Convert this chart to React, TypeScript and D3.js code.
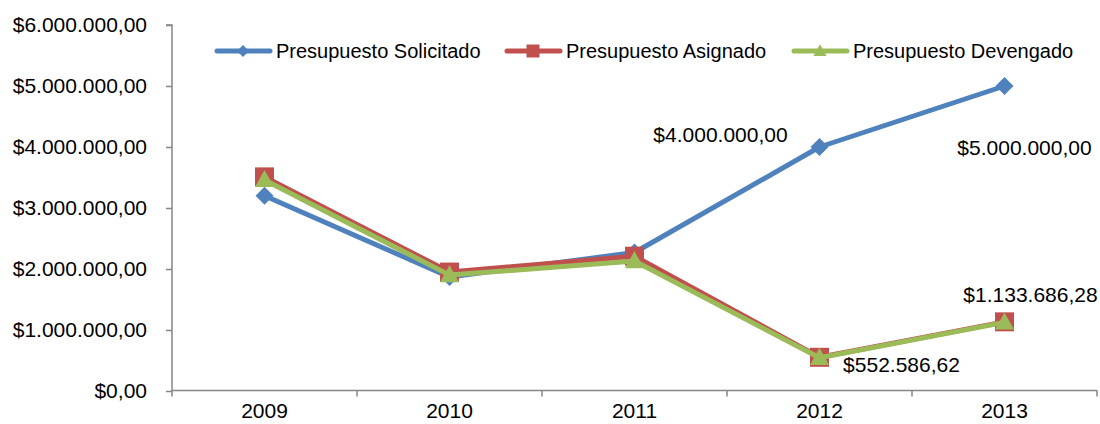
import { useEffect, useRef } from "react";
import * as d3 from "d3";

const years = ["2009", "2010", "2011", "2012", "2013"];
const solicitado = [3200000, 1870000, 2270000, 4000000, 5000000];
const asignado = [3510000, 1950000, 2210000, 552586.62, 1133686.28];
const devengado = [3460000, 1900000, 2130000, 545000, 1125000];
const yTicks = [0, 1000000, 2000000, 3000000, 4000000, 5000000, 6000000];

const seriesNames = ["Presupuesto Solicitado", "Presupuesto Asignado", "Presupuesto Devengado"];
const seriesColors = ["#4F81BD", "#C0504D", "#9BBB59"];
const seriesMarkers = ["diamond", "square", "triangle"];

// es-AR style: $1.133.686,28
const money = (v: number) => {
  const [int, dec] = v.toFixed(2).split(".");
  return "$" + int.replace(/\B(?=(\d{3})+(?!\d))/g, ".") + "," + dec;
};

const W = 1100;
const H = 424;
const FONT = "'Liberation Sans', Arial, sans-serif";
const FS = 21;

// marker shapes, r = half width
const marker = (kind: string, r: number) => {
  if (kind === "diamond") return `M0,${-r}L${r},0L0,${r}L${-r},0Z`;
  if (kind === "square") return `M${-r},${-r}H${r}V${r}H${-r}Z`;
  return `M0,${-r * 1.05}L${r},${r * 0.75}H${-r}Z`;
};

export default function App() {
  const svgRef = useRef<SVGSVGElement>(null);

  useEffect(() => {
    if (!svgRef.current) return;
    const svg = d3.select(svgRef.current);
    svg.selectAll("*").remove();

    const left = 172;
    const right = 1097;
    const top = 25;
    const bottom = 391;

    const x = d3.scaleBand().domain(years).range([left, right]);
    const cx = (d: string) => (x(d) ?? 0) + x.bandwidth() / 2;
    const y = d3.scaleLinear().domain([0, 6000000]).range([bottom, top]);

    const axisColor = "#868686";

    // y axis
    const ya = svg.append("g").attr("transform", `translate(${left},0)`)
      .call(d3.axisLeft(y).tickValues(yTicks).tickSize(6).tickPadding(19).tickFormat((d) => money(+d)));
    ya.select(".domain").attr("stroke", axisColor).attr("stroke-width", 1.5).attr("d", `M-6,${top}H0V${bottom}`);
    ya.selectAll(".tick line").attr("stroke", axisColor).attr("stroke-width", 1.5);
    ya.selectAll("text").attr("font-size", FS).attr("font-family", FONT).attr("fill", "#000");

    // x axis
    const xa = svg.append("g").attr("transform", `translate(0,${bottom - 0.5})`)
      .call(d3.axisBottom(x).tickSize(0).tickPadding(13));
    xa.select(".domain").attr("stroke", axisColor).attr("stroke-width", 1.5).attr("d", `M${left},0H${right}`);
    xa.selectAll("text").attr("font-size", FS).attr("font-family", FONT).attr("fill", "#000").attr("dy", "0.71em");
    const bounds = d3.range(years.length + 1).map((i) => left + i * x.step());
    xa.selectAll(".bound").data(bounds).enter().append("line")
      .attr("x1", (d) => d).attr("x2", (d) => d).attr("y1", 0).attr("y2", 6)
      .attr("stroke", axisColor).attr("stroke-width", 1.5);

    const allSeries = [solicitado, asignado, devengado];
    const line = d3.line<number>().x((_, i) => cx(years[i])).y((d) => y(d));
    const markerR = [9, 9.5, 9.5];

    allSeries.forEach((vals, s) => {
      const g = svg.append("g");
      g.append("path").datum(vals).attr("d", line).attr("fill", "none")
        .attr("stroke", seriesColors[s]).attr("stroke-width", 5).attr("stroke-linejoin", "round");
      g.selectAll("path.m").data(vals).enter().append("path").attr("class", "m")
        .attr("d", marker(seriesMarkers[s], markerR[s]))
        .attr("transform", (d, i) => `translate(${cx(years[i])},${y(d)})`)
        .attr("fill", seriesColors[s]);
    });

    // data labels
    const labels = [
      { v: solicitado[3], i: 3, dx: -99, dy: -5 },
      { v: solicitado[4], i: 4, dx: 20, dy: 69 },
      { v: asignado[3], i: 3, dx: 82, dy: 15 },
      { v: asignado[4], i: 4, dx: 26, dy: -20 },
    ];
    svg.selectAll("text.lbl").data(labels).enter().append("text").attr("class", "lbl")
      .attr("x", (d) => cx(years[d.i]) + d.dx)
      .attr("y", (d) => y(d.v) + d.dy)
      .attr("text-anchor", "middle")
      .attr("font-size", FS).attr("font-family", FONT).attr("fill", "#000")
      .text((d) => money(d.v));

    // legend
    const legendX = [215, 505, 792];
    const lg = svg.selectAll("g.lg").data(seriesNames).enter().append("g").attr("class", "lg")
      .attr("transform", (_, i) => `translate(${legendX[i]},51)`);
    lg.append("line").attr("x1", 2).attr("x2", 55).attr("y1", 0).attr("y2", 0)
      .attr("stroke", (_, i) => seriesColors[i]).attr("stroke-width", 5).attr("stroke-linecap", "round");
    lg.append("path").attr("d", (_, i) => marker(seriesMarkers[i], i === 0 ? 6 : 6.5))
      .attr("transform", "translate(28,0)").attr("fill", (_, i) => seriesColors[i]);
    lg.append("text").attr("x", 61).attr("y", 0).attr("dy", "0.35em")
      .attr("font-size", 20).attr("font-family", FONT).attr("fill", "#000")
      .text((d) => d);
  }, []);

  return (
    <svg
      ref={svgRef}
      width={W}
      height={H}
      style={{ position: "absolute", left: 0, top: 0, background: "#fff" }}
    />
  );
}
